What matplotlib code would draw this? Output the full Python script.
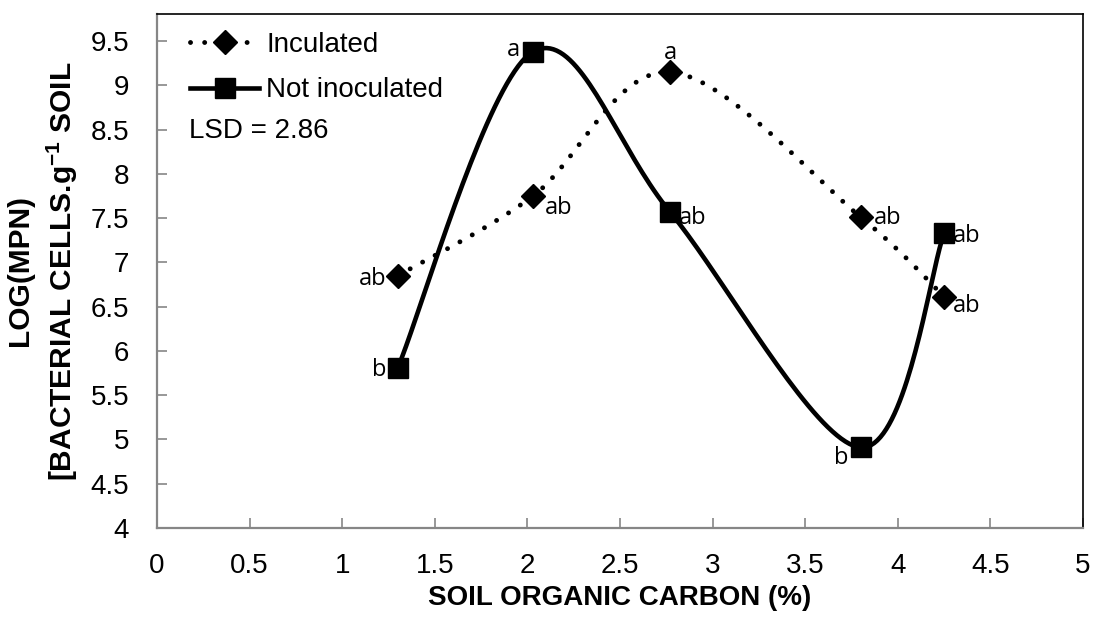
import numpy as np
import matplotlib.pyplot as plt

carbon = [1.30, 2.03, 2.77, 3.80, 4.25]
inoculated = [6.85, 7.75, 9.15, 7.51, 6.61]
not_inoculated = [5.81, 9.38, 7.57, 4.91, 7.33]
inoc_letters = ['ab', 'ab', 'a', 'ab', 'ab']
not_letters = ['b', 'a', 'ab', 'b', 'ab']

XMIN, XMAX, YMIN, YMAX = 0, 5, 4, 9.805


def smooth(x, y, sx=185.2, sy=88.55, n=40):
    # Excel-like smoothed line: cubic Bezier through the points, in pixel-ish space
    p = np.column_stack([np.array(x) * sx, np.array(y) * sy])
    pts = [p[0]]
    for i in range(len(p) - 1):
        p0 = p[i - 1] if i > 0 else p[i]
        p3 = p[i + 2] if i + 2 < len(p) else p[i + 1]
        c1 = p[i] + (p[i + 1] - p0) / 6
        c2 = p[i + 1] - (p3 - p[i]) / 6
        t = np.linspace(0, 1, n)[1:, None]
        seg = (1 - t) ** 3 * p[i] + 3 * (1 - t) ** 2 * t * c1 + 3 * (1 - t) * t ** 2 * c2 + t ** 3 * p[i + 1]
        pts.extend(seg)
    pts = np.array(pts)
    return pts[:, 0] / sx, pts[:, 1] / sy


fig = plt.figure(figsize=(10.95, 6.24), dpi=100)
ax = fig.add_axes([0.1434, 0.1538, 0.8457, 0.8237])

dots = (0, (0.01, 2.9))
xs, ys = smooth(carbon, inoculated)
ax.plot(xs, ys, color='black', lw=3.5, linestyle=dots, dash_capstyle='round')
ax.plot(carbon, inoculated, 'D', color='black', ms=12.5, ls='none')
ax.plot([], [], color='black', lw=3.5, linestyle=dots, dash_capstyle='round',
        marker='D', ms=12.5, label='Inculated')

xs, ys = smooth(carbon, not_inoculated)
ax.plot(xs, ys, color='black', lw=3.3)
ax.plot(carbon, not_inoculated, 's', color='black', ms=13.7, ls='none')
ax.plot([], [], color='black', lw=3.3, marker='s', ms=13.7, label='Not inoculated')

lab_font = dict(fontsize=17, family='Open Sans', color='black')
# offsets in pixels (dx, dy), dy positive = up
inoc_off = [(-11, 0, 'right'), (12, -9, 'left'), (0, 22, 'center'), (13, 2, 'left'), (9, -6, 'left')]
not_off = [(-11, 1, 'right'), (-13, 5, 'right'), (9, -3, 'left'), (-12, -8, 'right'), (9, 0, 'left')]
for vals, letters, offs in [(inoculated, inoc_letters, inoc_off), (not_inoculated, not_letters, not_off)]:
    for xv, yv, t, (dx, dy, ha) in zip(carbon, vals, letters, offs):
        ax.annotate(t, (xv, yv), xytext=(dx / 1.389, dy / 1.389), textcoords='offset points',
                    ha=ha, va='center_baseline', **lab_font)

ax.set_xlim(XMIN, XMAX)
ax.set_ylim(YMIN, YMAX)
ax.set_xticks(np.arange(0, 5.01, 0.5))
ax.set_yticks(np.arange(4, 9.51, 0.5))
ax.set_xticklabels(['0', '0.5', '1', '1.5', '2', '2.5', '3', '3.5', '4', '4.5', '5'])
ax.set_yticklabels(['4', '4.5', '5', '5.5', '6', '6.5', '7', '7.5', '8', '8.5', '9', '9.5'])
ax.tick_params(direction='in', length=7, width=1.2, labelsize=20, color='#868686')
ax.tick_params(axis='y', pad=20)
ax.tick_params(axis='x', pad=18)
for lbl in ax.get_xticklabels() + ax.get_yticklabels():
    lbl.set_family('Liberation Sans')
for side in ['left', 'bottom']:
    ax.spines[side].set_color('#868686')
    ax.spines[side].set_linewidth(1.6)
for side in ['top', 'right']:
    ax.spines[side].set_color('black')
    ax.spines[side].set_linewidth(1.2)

ax.set_xlabel('SOIL ORGANIC CARBON (%)', fontsize=20, fontweight='bold', family='Liberation Sans', labelpad=4)
fig.text(43 / 1095, 1 - 271 / 624, 'LOG(MPN)\n[BACTERIAL CELLS.g$^{\\mathregular{-1}}$ SOIL', fontsize=21.5,
         fontweight='bold', family='Liberation Sans', rotation=90, ha='center', va='center',
         linespacing=1.35, multialignment='center')

ax.legend(loc='upper left', bbox_to_anchor=(0.0356, 0.965), frameon=False,
          prop={'family': 'Liberation Sans', 'size': 20}, handlelength=2.5, handletextpad=0.25,
          borderaxespad=0, borderpad=0, labelspacing=0.7)
ax.text(0.0346, 0.772, 'LSD = 2.86', transform=ax.transAxes, fontsize=20, family='Liberation Sans',
        va='center')

fig.savefig('out.png', dpi=100)
